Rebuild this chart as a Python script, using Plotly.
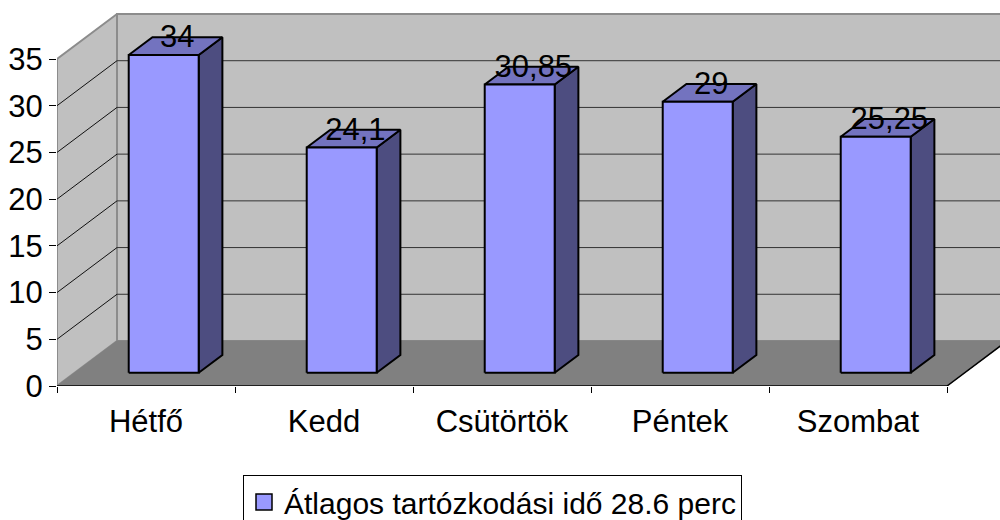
import plotly.graph_objects as go

categories = ["Hétfő", "Kedd", "Csütörtök", "Péntek", "Szombat"]
values = [34, 24.1, 30.85, 29, 25.25]
value_labels = ["34", "24,1", "30,85", "29", "25,25"]
y_ticks = [0, 5, 10, 15, 20, 25, 30, 35]
legend_name = "Átlagos tartózkodási idő 28.6 perc"

# oblique projection of the depth axis, in axis units
DX, DY = 60 / 178, 45 / 9.343
Y_MAX = 35
N = len(categories)
D1, D2 = 0.295, 0.69
BAR_W = 0.393
LABEL_LIFT = 0.7
LABEL_SHIFT = 0.01
FONT = "Liberation Sans"
FS = 31


def proj(u, v, d):
    return u + d * DX, v + d * DY


def poly(pts):
    xs = [p[0] for p in pts] + [pts[0][0], None]
    ys = [p[1] for p in pts] + [pts[0][1], None]
    return xs, ys


def merged(polys):
    xs, ys = [], []
    for p in polys:
        a, b = poly(p)
        xs += a
        ys += b
    return xs, ys


def face(polys, fill, line="#000000", width=2):
    xs, ys = merged(polys)
    return go.Scatter(x=xs, y=ys, mode="lines", fill="toself", fillcolor=fill,
                      line=dict(color=line, width=width), showlegend=False, hoverinfo="skip")


def lines(segs, color, width):
    xs, ys = [], []
    for a, b in segs:
        xs += [a[0], b[0], None]
        ys += [a[1], b[1], None]
    return go.Scatter(x=xs, y=ys, mode="lines", line=dict(color=color, width=width),
                      showlegend=False, hoverinfo="skip")


fig = go.Figure()

# walls and floor
back = [proj(0, 0, 1), proj(N + 0.4, 0, 1), proj(N + 0.4, Y_MAX, 1), proj(0, Y_MAX, 1)]
side = [proj(0, 0, 0), proj(0, 0, 1), proj(0, Y_MAX, 1), proj(0, Y_MAX, 0)]
floor = [proj(0, 0, 0), proj(N, 0, 0), proj(N, 0, 1), proj(0, 0, 1)]
fig.add_trace(face([back, side], "#C0C0C0", "#8C8C8C", 2))
fig.add_trace(face([floor], "#808080", "#808080", 1))

# gridlines
grid_side = [(proj(0, v, 0), proj(0, v, 1)) for v in y_ticks[1:-1]]
grid_back = [(proj(0, v, 1), proj(N + 0.4, v, 1)) for v in y_ticks[1:-1]]
fig.add_trace(lines(grid_side, "#111111", 1))
fig.add_trace(lines(grid_back, "#333333", 1))
fig.add_trace(lines([(proj(0, 0, 0), proj(N, 0, 0)), (proj(N, 0, 0), proj(N, 0, 1))], "#000000", 1.5))

# bars
fronts, tops, sides = [], [], []
lx, ly = [], []
for i, v in enumerate(values):
    l, r = i + 0.5 - BAR_W / 2, i + 0.5 + BAR_W / 2
    fronts.append([proj(l, 0, D1), proj(r, 0, D1), proj(r, v, D1), proj(l, v, D1)])
    tops.append([proj(l, v, D1), proj(r, v, D1), proj(r, v, D2), proj(l, v, D2)])
    sides.append([proj(r, 0, D1), proj(r, 0, D2), proj(r, v, D2), proj(r, v, D1)])
    cx, cy = proj(i + 0.5, v, (D1 + D2) / 2)
    lx.append(cx + LABEL_SHIFT)
    ly.append(cy + LABEL_LIFT)
fig.add_trace(face(sides, "#4D4D80"))
fig.add_trace(face(tops, "#7373BF"))
fig.add_trace(face(fronts, "#9999FF"))

# data labels
fig.add_trace(go.Scatter(x=lx, y=ly, mode="text", text=value_labels, textposition="middle center",
                         textfont=dict(family=FONT, size=FS, color="#000000"),
                         showlegend=False, hoverinfo="skip"))

# legend entry
fig.add_trace(go.Scatter(x=[None], y=[None], mode="markers", name=legend_name,
                         marker=dict(symbol="square", size=17, color="#9999FF",
                                     line=dict(color="#000000", width=1.5))))

# the figure runs past the 520px window so that the legend box is cut off at the bottom edge
fig.update_layout(
    width=1000, height=540, autosize=False,
    margin=dict(l=57, r=0, t=10, b=154, pad=0),
    paper_bgcolor="#FFFFFF", plot_bgcolor="#FFFFFF",
    font=dict(family=FONT, size=FS, color="#000000"),
    showlegend=True,
    legend=dict(x=186 / 943, y=-89 / 376, xanchor="left", yanchor="top",
                bgcolor="#FFFFFF", bordercolor="#000000", borderwidth=1,
                font=dict(family=FONT, size=30, color="#000000"), itemsizing="trace"),
    xaxis=dict(range=[0, 943 / 178], showgrid=False, zeroline=False, showline=False,
               tickmode="array", tickvals=[i + 0.5 for i in range(N)], ticktext=categories,
               ticks="", tickfont=dict(family=FONT, size=FS), ticklabelstandoff=14,
               minor=dict(tickmode="array", tickvals=list(range(N + 1)), ticks="outside",
                          ticklen=6, tickcolor="#000000", tickwidth=1, showgrid=False)),
    yaxis=dict(range=[0, 376 / 9.343], showgrid=False, zeroline=False, showline=False,
               tickmode="array", tickvals=y_ticks, ticktext=[str(t) for t in y_ticks],
               ticks="outside", ticklen=7, tickcolor="#000000", tickwidth=1,
               tickfont=dict(family=FONT, size=FS)),
)

fig.write_html("out.html", config={"displayModeBar": False},
               post_script="document.body.style.margin='0';document.documentElement.style.overflow='hidden';")
